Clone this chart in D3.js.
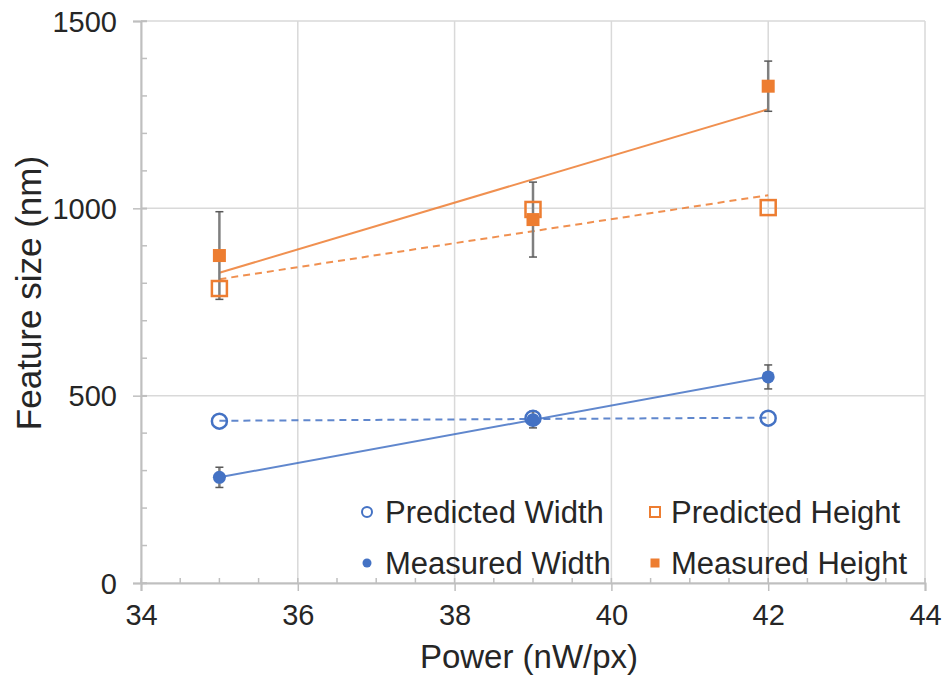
<!DOCTYPE html>
<html>
<head>
<meta charset="utf-8">
<script src="https://cdn.jsdelivr.net/npm/d3@7"></script>
<style>
  body { margin: 0; background: #fff; }
  text { font-family: "Liberation Sans", Arial, sans-serif; fill: #262626; }
</style>
</head>
<body>
<div id="chart"></div>
<script>
// values
var power = [35, 39, 42]
var predWidth = [432, 440, 440]
var measWidth = [282, 436, 550]
var measWidthErr = [27, 22, 32]
var predHeight = [786, 997, 1002]
var measHeight = [874, 970, 1326]
var measHeightErr = [117, 100, 67]

var xTicks = [34, 36, 38, 40, 42, 44]
var yTicks = [0, 500, 1000, 1500]
var legendNames = ['Predicted Width', 'Predicted Height', 'Measured Width', 'Measured Height']

var blue = '#4472c4'
var orange = '#ed7d31'

var margin = { top: 21, right: 21, bottom: 100, left: 141 }
var W = 946, H = 683
var w = W - margin.left - margin.right
var h = H - margin.top - margin.bottom

var svg = d3.select('#chart').append('svg')
  .attr('width', W)
  .attr('height', H)

var g = svg.append('g')
  .attr('transform', 'translate(' + margin.left + ',' + margin.top + ')')

var x = d3.scaleLinear().domain([34, 44]).range([0, w])
var y = d3.scaleLinear().domain([0, 1500]).range([h, 0])

// grid
g.selectAll('.vgrid')
  .data(xTicks)
  .enter().append('line')
  .attr('x1', function(d) { return x(d) })
  .attr('x2', function(d) { return x(d) })
  .attr('y1', 0).attr('y2', h)
  .attr('stroke', '#d9d9d9').attr('stroke-width', 1.5)

g.selectAll('.hgrid')
  .data(yTicks)
  .enter().append('line')
  .attr('y1', function(d) { return y(d) })
  .attr('y2', function(d) { return y(d) })
  .attr('x1', 0).attr('x2', w)
  .attr('stroke', '#d9d9d9').attr('stroke-width', 1.5)

// minor ticks (inside)
var axisCol = '#bfbfbf'
g.selectAll('.xminor')
  .data(d3.range(34, 44.01, 0.5))
  .enter().append('line')
  .attr('x1', function(d) { return x(d) })
  .attr('x2', function(d) { return x(d) })
  .attr('y1', h - 5).attr('y2', h)
  .attr('stroke', axisCol).attr('stroke-width', 1.5)

g.selectAll('.yminor')
  .data(d3.range(0, 1501, 100))
  .enter().append('line')
  .attr('y1', function(d) { return y(d) })
  .attr('y2', function(d) { return y(d) })
  .attr('x1', 0).attr('x2', 6)
  .attr('stroke', axisCol).attr('stroke-width', 1.5)

// axes
var xAxis = g.append('g')
  .attr('transform', 'translate(0,' + h + ')')
  .call(d3.axisBottom(x).tickValues(xTicks).tickSize(8).tickPadding(12))
var yAxis = g.append('g')
  .call(d3.axisLeft(y).tickValues(yTicks).tickFormat(d3.format('d')).tickSize(8).tickPadding(16))

;[xAxis, yAxis].forEach(function(a) {
  a.select('.domain').attr('stroke', axisCol).attr('stroke-width', 2)
  a.selectAll('.tick line').attr('stroke', axisCol).attr('stroke-width', 1.5)
  a.selectAll('.tick text')
    .attr('font-size', 29)
    .style('font-family', '"Liberation Sans", Arial, sans-serif')
    .attr('fill', '#262626')
})
yAxis.selectAll('.tick line').attr('x2', -8).attr('x1', 6)
yAxis.selectAll('.tick text').attr('dy', '0.35em')
xAxis.selectAll('.tick text').attr('dy', '0.75em')

// axis titles
svg.append('text')
  .attr('x', margin.left + x(39.0) - 4)
  .attr('y', 668)
  .attr('text-anchor', 'middle')
  .attr('font-size', 33)
  .text('Power (nW/px)')

svg.append('text')
  .attr('transform', 'translate(41,' + 293 + ') rotate(-90)')
  .attr('text-anchor', 'middle')
  .attr('font-size', 35)
  .text('Feature size (nm)')

// trend lines: least squares through each series
function fit(vals) {
  var mx = d3.mean(power), my = d3.mean(vals)
  var sxy = d3.sum(power, function(p, i) { return (p - mx) * (vals[i] - my) })
  var sxx = d3.sum(power, function(p) { return (p - mx) * (p - mx) })
  var b = sxy / sxx
  var a = my - b * mx
  var ends = [d3.min(power), d3.max(power)]
  return ends.map(function(p) { return [p, a + b * p] })
}

var line = d3.line()
  .x(function(d) { return x(d[0]) })
  .y(function(d) { return y(d[1]) })

var trends = [
  { vals: predWidth, color: blue, dash: '7,5' },
  { vals: measWidth, color: blue, dash: null },
  { vals: predHeight, color: orange, dash: '7,5' },
  { vals: measHeight, color: orange, dash: null }
]
trends.forEach(function(t) {
  g.append('path')
    .datum(fit(t.vals))
    .attr('d', line)
    .attr('fill', 'none')
    .attr('stroke', t.color)
    .attr('stroke-opacity', 0.85)
    .attr('stroke-width', 2)
    .attr('stroke-dasharray', t.dash)
})

// error bars
function errorBars(vals, errs) {
  var eb = g.append('g')
  power.forEach(function(p, i) {
    var top = y(vals[i] + errs[i]), bot = y(vals[i] - errs[i])
    eb.append('line')
      .attr('x1', x(p)).attr('x2', x(p))
      .attr('y1', top).attr('y2', bot)
      .attr('stroke', '#7f7f7f').attr('stroke-width', 2.5)
    ;[top, bot].forEach(function(yy) {
      eb.append('line')
        .attr('x1', x(p) - 4).attr('x2', x(p) + 4)
        .attr('y1', yy).attr('y2', yy)
        .attr('stroke', '#595959').attr('stroke-width', 1.5)
    })
  })
}
errorBars(measWidth, measWidthErr)
errorBars(measHeight, measHeightErr)

// markers
g.selectAll('.mw')
  .data(measWidth)
  .enter().append('circle')
  .attr('cx', function(d, i) { return x(power[i]) })
  .attr('cy', function(d) { return y(d) })
  .attr('r', 6.5)
  .attr('fill', blue)

g.selectAll('.mh')
  .data(measHeight)
  .enter().append('rect')
  .attr('x', function(d, i) { return x(power[i]) - 6.5 })
  .attr('y', function(d) { return y(d) - 6.5 })
  .attr('width', 13).attr('height', 13)
  .attr('fill', orange)

g.selectAll('.pw')
  .data(predWidth)
  .enter().append('circle')
  .attr('cx', function(d, i) { return x(power[i]) })
  .attr('cy', function(d) { return y(d) })
  .attr('r', 7.5)
  .attr('fill', 'none')
  .attr('stroke', blue).attr('stroke-width', 2.5)

g.selectAll('.ph')
  .data(predHeight)
  .enter().append('rect')
  .attr('x', function(d, i) { return x(power[i]) - 7.5 })
  .attr('y', function(d) { return y(d) - 7.5 })
  .attr('width', 15).attr('height', 15)
  .attr('fill', 'none')
  .attr('stroke', orange).attr('stroke-width', 2.5)

// legend
var legend = svg.append('g')
var lx = [367, 655], ly = [512, 563]
legendNames.forEach(function(name, i) {
  var cx = lx[i % 2], cy = ly[Math.floor(i / 2)]
  var isPred = i < 2, isWidth = i % 2 === 0
  var col = isWidth ? blue : orange
  if (isWidth) {
    legend.append('circle')
      .attr('cx', cx).attr('cy', cy)
      .attr('r', isPred ? 5 : 4.5)
      .attr('fill', isPred ? 'none' : col)
      .attr('stroke', isPred ? col : 'none')
      .attr('stroke-width', 2)
  } else {
    var s = isPred ? 10 : 9
    legend.append('rect')
      .attr('x', cx - s / 2).attr('y', cy - s / 2)
      .attr('width', s).attr('height', s)
      .attr('fill', isPred ? 'none' : col)
      .attr('stroke', isPred ? col : 'none')
      .attr('stroke-width', 2)
  }
  legend.append('text')
    .attr('x', cx + (isWidth ? 18 : 16))
    .attr('y', cy + 11)
    .attr('font-size', 31)
    .text(name)
})
</script>
</body>
</html>
